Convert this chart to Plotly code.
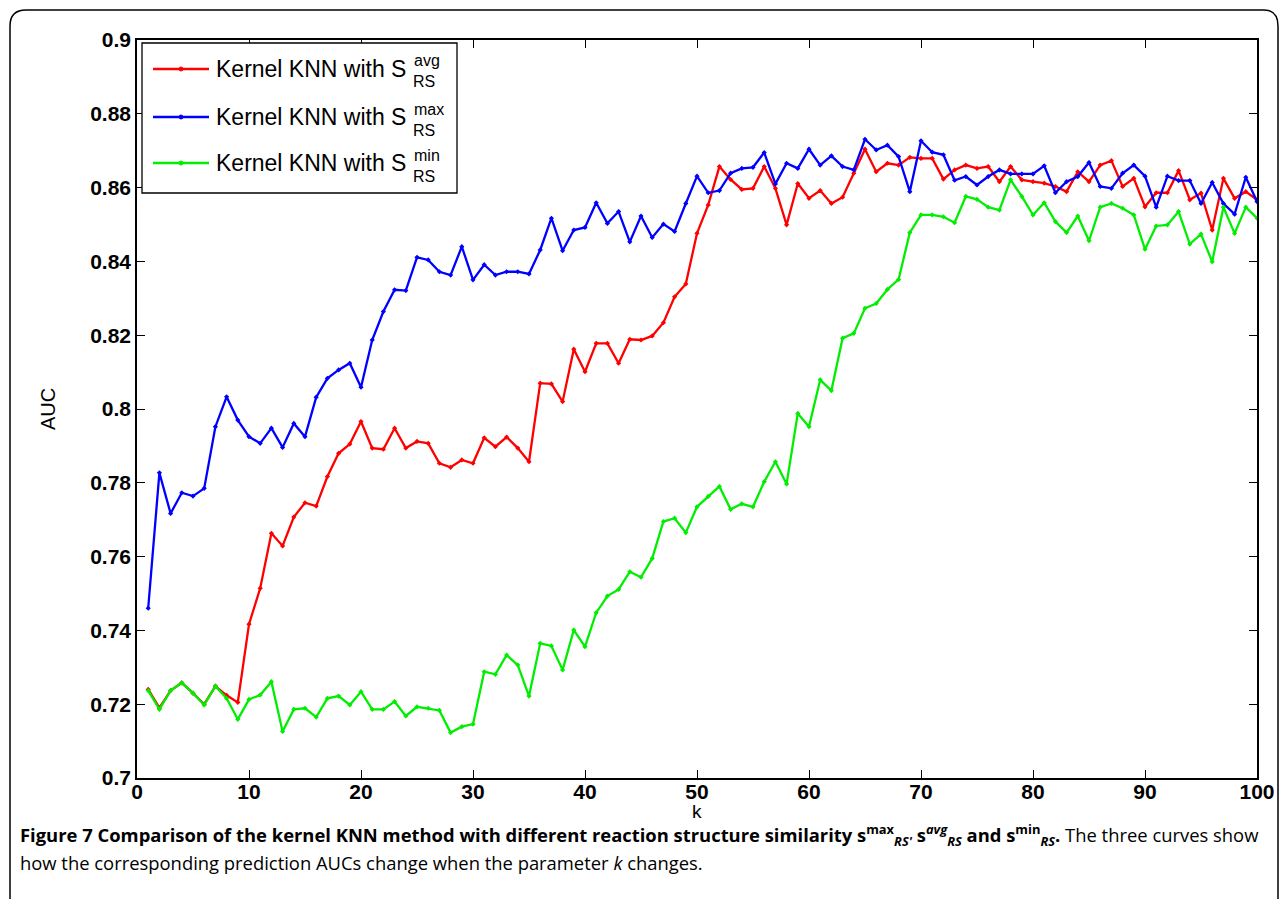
import plotly.graph_objects as go

k_values = list(range(1, 101))

auc_avg = [
    0.7240, 0.7190, 0.7237, 0.7258, 0.7230, 0.7200, 0.7249, 0.7224, 0.7205, 0.7417,
    0.7514, 0.7663, 0.7629, 0.7707, 0.7746, 0.7737, 0.7817, 0.7880, 0.7905, 0.7966,
    0.7894, 0.7891, 0.7948, 0.7894, 0.7912, 0.7907, 0.7853, 0.7842, 0.7862, 0.7853,
    0.7922, 0.7898, 0.7924, 0.7894, 0.7857, 0.8070, 0.8068, 0.8020, 0.8162, 0.8101,
    0.8178, 0.8178, 0.8124, 0.8189, 0.8187, 0.8198, 0.8234, 0.8304, 0.8339, 0.8476,
    0.8553, 0.8657, 0.8622, 0.8595, 0.8598, 0.8657, 0.8598, 0.8499, 0.8611, 0.8571,
    0.8592, 0.8557, 0.8574, 0.8639, 0.8704, 0.8643, 0.8666, 0.8661, 0.8682, 0.8679,
    0.8679, 0.8623, 0.8648, 0.8661, 0.8652, 0.8657, 0.8616, 0.8657, 0.8621, 0.8616,
    0.8612, 0.8603, 0.8589, 0.8643, 0.8616, 0.8661, 0.8673, 0.8603, 0.8625, 0.8548,
    0.8586, 0.8586, 0.8646, 0.8567, 0.8585, 0.8485, 0.8625, 0.8571, 0.8589, 0.8567,
]

auc_max = [
    0.7460, 0.7827, 0.7717, 0.7773, 0.7764, 0.7785, 0.7952, 0.8033, 0.7970, 0.7925,
    0.7907, 0.7948, 0.7896, 0.7961, 0.7925, 0.8032, 0.8083, 0.8106, 0.8124, 0.8059,
    0.8187, 0.8264, 0.8323, 0.8321, 0.8411, 0.8404, 0.8372, 0.8363, 0.8440, 0.8350,
    0.8391, 0.8363, 0.8372, 0.8372, 0.8366, 0.8431, 0.8517, 0.8429, 0.8485, 0.8492,
    0.8559, 0.8503, 0.8535, 0.8453, 0.8523, 0.8465, 0.8501, 0.8481, 0.8557, 0.8631,
    0.8586, 0.8592, 0.8639, 0.8652, 0.8655, 0.8695, 0.8610, 0.8666, 0.8652, 0.8704,
    0.8661, 0.8686, 0.8657, 0.8648, 0.8731, 0.8702, 0.8715, 0.8684, 0.8589, 0.8727,
    0.8696, 0.8689, 0.8620, 0.8630, 0.8607, 0.8630, 0.8648, 0.8637, 0.8637, 0.8637,
    0.8659, 0.8586, 0.8616, 0.8630, 0.8668, 0.8603, 0.8598, 0.8639, 0.8661, 0.8631,
    0.8547, 0.8631, 0.8619, 0.8619, 0.8557, 0.8614, 0.8557, 0.8528, 0.8628, 0.8562,
]

auc_min = [
    0.7237, 0.7186, 0.7237, 0.7258, 0.7230, 0.7198, 0.7249, 0.7216, 0.7159, 0.7213,
    0.7225, 0.7261, 0.7126, 0.7186, 0.7189, 0.7165, 0.7216, 0.7222, 0.7198, 0.7234,
    0.7186, 0.7186, 0.7207, 0.7168, 0.7193, 0.7189, 0.7183, 0.7123, 0.7139, 0.7146,
    0.7288, 0.7281, 0.7333, 0.7306, 0.7222, 0.7365, 0.7358, 0.7293, 0.7401, 0.7356,
    0.7448, 0.7493, 0.7511, 0.7559, 0.7544, 0.7595, 0.7695, 0.7704, 0.7665, 0.7735,
    0.7763, 0.7790, 0.7728, 0.7743, 0.7735, 0.7803, 0.7857, 0.7797, 0.7988, 0.7952,
    0.8079, 0.8050, 0.8192, 0.8205, 0.8273, 0.8286, 0.8324, 0.8351, 0.8478, 0.8526,
    0.8526, 0.8521, 0.8505, 0.8576, 0.8568, 0.8547, 0.8539, 0.8621, 0.8576, 0.8526,
    0.8559, 0.8508, 0.8478, 0.8523, 0.8456, 0.8547, 0.8557, 0.8544, 0.8526, 0.8433,
    0.8496, 0.8499, 0.8535, 0.8447, 0.8474, 0.8399, 0.8547, 0.8476, 0.8547, 0.8517,
]

series_names = ["avg", "max", "min"]
series_colors = ["#ff0000", "#0000ff", "#00ee00"]

y_tickvals = [0.7, 0.72, 0.74, 0.76, 0.78, 0.8, 0.82, 0.84, 0.86, 0.88, 0.9]
y_ticktext = ["0.7", "0.72", "0.74", "0.76", "0.78", "0.8", "0.82", "0.84", "0.86", "0.88", "0.9"]
x_tickvals = [0, 10, 20, 30, 40, 50, 60, 70, 80, 90, 100]

W, H = 1280, 899
L, R, T, B = 137, 1257, 40, 778


def px(x):
    return (x - L) / (R - L)


def py(y):
    return (B - y) / (B - T)


fig = go.Figure()
for vals, name, col in zip([auc_avg, auc_max, auc_min], series_names, series_colors):
    fig.add_trace(go.Scatter(
        x=k_values, y=vals, mode="lines+markers", name=name,
        line=dict(color=col, width=2.3),
        marker=dict(color=col, size=4, symbol="diamond"),
        showlegend=False,
    ))

axis_common = dict(
    showline=True, linecolor="black", linewidth=1.5, mirror="ticks",
    ticks="inside", ticklen=8, tickwidth=1.3, tickcolor="black",
    showgrid=False, zeroline=False, automargin=False,
    tickfont=dict(family="Liberation Sans", size=21, color="black", weight="bold"),
)

fig.update_xaxes(range=[0, 100], tickvals=x_tickvals, ticklabelstandoff=-6, **axis_common)
fig.update_yaxes(range=[0.7, 0.9], tickvals=y_tickvals, ticktext=y_ticktext, **axis_common)

shapes = []
annotations = []

# outer frame
frame = (f"M {px(10)},{py(905)} L {px(10)},{py(26)} Q {px(10)},{py(10)} {px(26)},{py(10)} "
         f"L {px(1264)},{py(10)} Q {px(1278)},{py(10)} {px(1278)},{py(26)} L {px(1278)},{py(905)}")
shapes.append(dict(type="path", path=frame, xref="paper", yref="paper",
                   line=dict(color="black", width=1.5), layer="below"))

# legend box
shapes.append(dict(type="rect", xref="paper", yref="paper",
                   x0=px(142), x1=px(457), y0=py(193), y1=py(43),
                   line=dict(color="black", width=1.3), fillcolor="white"))

legend_rows = [(69, 61, 82, "avg"), (117, 109, 130, "max"), (163, 155, 177, "min")]
for (yc, ysup, ysub, sup), col in zip(legend_rows, series_colors):
    shapes.append(dict(type="line", xref="paper", yref="paper",
                       x0=px(153), x1=px(209), y0=py(yc), y1=py(yc),
                       line=dict(color=col, width=2.3)))
    shapes.append(dict(type="circle", xref="paper", yref="paper",
                       x0=px(179), x1=px(183), y0=py(yc + 2), y1=py(yc - 2),
                       line=dict(color=col, width=1), fillcolor=col))
    annotations.append(dict(text="Kernel KNN with S", x=px(214), y=py(yc), xref="paper", yref="paper",
                            xanchor="left", yanchor="middle", showarrow=False,
                            font=dict(family="Liberation Sans", size=23, color="black")))
    annotations.append(dict(text=sup, x=px(412), y=py(ysup), xref="paper", yref="paper",
                            xanchor="left", yanchor="middle", showarrow=False,
                            font=dict(family="Liberation Sans", size=16, color="black")))
    annotations.append(dict(text="RS", x=px(411), y=py(ysub), xref="paper", yref="paper",
                            xanchor="left", yanchor="middle", showarrow=False,
                            font=dict(family="Liberation Sans", size=16, color="black")))

# axis titles
annotations.append(dict(text="AUC", x=px(48), y=py(409), xref="paper", yref="paper",
                        xanchor="center", yanchor="middle", textangle=-90, showarrow=False,
                        font=dict(family="Liberation Sans", size=20, color="black")))
annotations.append(dict(text="k", x=px(697), y=py(812), xref="paper", yref="paper",
                        xanchor="center", yanchor="middle", showarrow=False,
                        font=dict(family="Liberation Sans", size=19, color="black")))

cap_font = dict(family="Open Sans", size=18.4, color="black")
annotations.append(dict(
    text=("<b>Figure 7 Comparison of the kernel KNN method with different reaction structure similarity "
          "s<sup>max</sup><sub><i>RS'</i></sub> s<sup><i>avg</i></sup><sub><i>RS</i></sub> and "
          "s<sup>min</sup><sub><i>RS</i></sub>.</b> The three curves show"),
    x=px(18), y=py(835), xref="paper", yref="paper", xanchor="left", yanchor="middle",
    showarrow=False, font=cap_font))
annotations.append(dict(
    text="how the corresponding prediction AUCs change when the parameter <i>k</i> changes.",
    x=px(18), y=py(862), xref="paper", yref="paper", xanchor="left", yanchor="middle",
    showarrow=False, font=cap_font))

fig.update_layout(
    width=W, height=H, autosize=False,
    margin=dict(l=L, r=W - R, t=T, b=H - B, autoexpand=False),
    paper_bgcolor="white", plot_bgcolor="white",
    shapes=shapes, annotations=annotations,
)

fig.write_html(
    "out.html",
    config={"displayModeBar": False, "responsive": False},
    post_script="document.body.style.margin='0';document.body.style.overflow='hidden';",
)
